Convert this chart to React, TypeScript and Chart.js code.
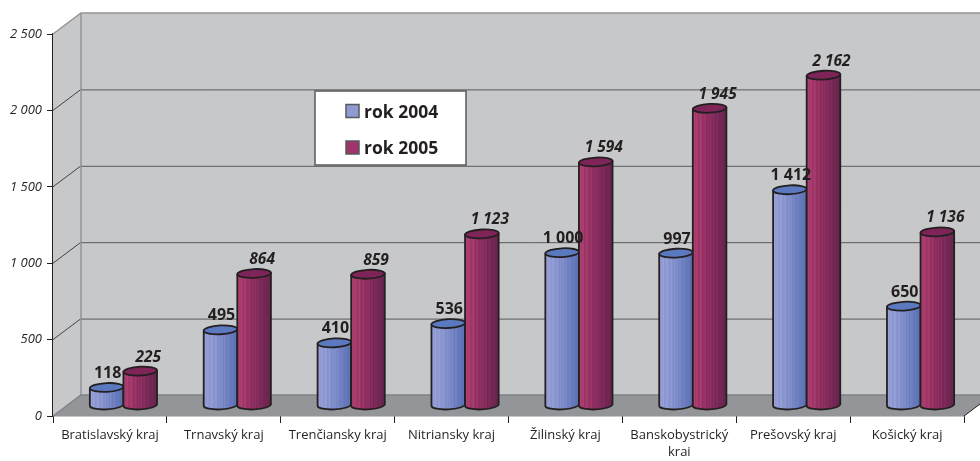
import React, { useEffect, useRef } from "react";
import { Chart, registerables } from "chart.js";

Chart.register(...registerables);

const categories: (string | string[])[] = [
  "Bratislavský kraj",
  "Trnavský kraj",
  "Trenčiansky kraj",
  "Nitriansky kraj",
  "Žilinský kraj",
  ["Banskobystrický", "krai"],
  "Prešovský kraj",
  "Košický kraj",
];
const rok2004 = [118, 495, 410, 536, 1000, 997, 1412, 650];
const rok2005 = [225, 864, 859, 1123, 1594, 1945, 2162, 1136];
const seriesNames = ["rok 2004", "rok 2005"];

const FONT = '"Open Sans", "Noto Sans", sans-serif';
const INK = "#231f20";
const DEPTH_X = 28;
const DEPTH_Y = 21;
const BAR_DX = 13.5;
const BAR_DY = -10.5;
const RY = 4.4;
const TILT = -0.05;

const fmt = (v: number) => {
  const s = String(v);
  return s.length > 3 ? s.slice(0, -3) + " " + s.slice(-3) : s;
};

type Rgb = [number, number, number];
const palettes: { stops: Rgb[]; top: string; swatch: string }[] = [
  { stops: [[148, 156, 212], [136, 148, 206], [112, 128, 192], [88, 112, 178]], top: "#5b79bf", swatch: "#8f9bd2" },
  { stops: [[172, 62, 112], [150, 48, 98], [124, 40, 88], [102, 36, 76]], top: "#7e2458", swatch: "#a0356c" },
];
const stripe = [0, 7, -3, 9, -5, 4, 10, -4, 2, 8, -6, 5];

function shade(stops: Rgb[], t: number, delta: number) {
  const p = t * (stops.length - 1);
  const i = Math.min(Math.floor(p), stops.length - 2);
  const f = p - i;
  const c = stops[i].map((a, k) => Math.round(a + (stops[i + 1][k] - a) * f + delta));
  return `rgb(${c[0]},${c[1]},${c[2]})`;
}

const cylinderPlugin = {
  id: "cylinder",
  beforeDatasetDraw() {
    return false;
  },
  beforeDatasetsDraw(chart: any) {
    const { ctx } = chart;
    chart.data.datasets.forEach((_: any, di: number) => {
      const pal = palettes[di];
      chart.getDatasetMeta(di).data.forEach((el: any) => {
        const w = el.width;
        const cx = el.x + BAR_DX;
        const yTop = el.y + BAR_DY;
        const yBot = el.base + BAR_DY;
        const l = cx - w / 2;
        const r = cx + w / 2;
        const dy = (w / 2) * Math.sin(TILT);
        const g = ctx.createLinearGradient(l, 0, r, 0);
        const n = 24;
        for (let i = 0; i <= n; i++) {
          g.addColorStop(i / n, shade(pal.stops, i / n, stripe[i % stripe.length] * (i / n < 0.75 ? 1 : 0.4)));
        }
        ctx.save();
        ctx.lineWidth = 1.8;
        ctx.strokeStyle = INK;
        ctx.lineJoin = "round";
        ctx.beginPath();
        ctx.moveTo(l, yTop - dy);
        ctx.lineTo(l, yBot - dy);
        ctx.ellipse(cx, yBot, w / 2, RY, TILT, Math.PI, 0, true);
        ctx.lineTo(r, yTop + dy);
        ctx.closePath();
        ctx.fillStyle = g;
        ctx.fill();
        ctx.stroke();
        ctx.beginPath();
        ctx.ellipse(cx, yTop, w / 2, RY, TILT, 0, Math.PI * 2);
        ctx.fillStyle = pal.top;
        ctx.fill();
        ctx.stroke();
        ctx.restore();
      });
    });
  },
  afterDatasetsDraw(chart: any) {
    const { ctx } = chart;
    ctx.save();
    ctx.fillStyle = INK;
    ctx.textAlign = "center";
    ctx.textBaseline = "middle";
    chart.data.datasets.forEach((ds: any, di: number) => {
      const meta = chart.getDatasetMeta(di);
      ctx.font = di === 0 ? `bold 16px ${FONT}` : `italic bold 15.5px ${FONT}`;
      meta.data.forEach((el: any, i: number) => {
        const x = el.x + BAR_DX + (di === 0 ? 1 : 8);
        const y = el.y + BAR_DY - (di === 0 ? 14 : 14);
        ctx.fillText(fmt(ds.data[i]), x, y);
      });
    });
    // legend box
    const lx = 315, ly = 91, lw = 151, lh = 74;
    ctx.fillStyle = "#fff";
    ctx.strokeStyle = "#58595b";
    ctx.lineWidth = 1.5;
    ctx.fillRect(lx, ly, lw, lh);
    ctx.strokeRect(lx, ly, lw, lh);
    ctx.textAlign = "left";
    ctx.font = `bold 17.5px ${FONT}`;
    chart.data.datasets.forEach((ds: any, di: number) => {
      const cy = ly + 20 + di * 36.5;
      ctx.fillStyle = palettes[di].swatch;
      ctx.strokeStyle = "#58595b";
      ctx.fillRect(346, cy - 6.5, 13, 13);
      ctx.strokeRect(346, cy - 6.5, 13, 13);
      ctx.fillStyle = INK;
      ctx.fillText(ds.label, 364, cy + 2);
    });
    ctx.restore();
  },
};

const wallPlugin = {
  id: "walls",
  beforeDatasetsDraw(chart: any) {
    const { ctx, chartArea: a, scales } = chart;
    const W = chart.width;
    const y = scales.y;
    const bl = a.left + DEPTH_X;
    const y0 = y.getPixelForValue(0);
    const yMax = y.getPixelForValue(2500);
    ctx.save();
    ctx.fillStyle = "#c7c8ca";
    ctx.fillRect(bl, yMax - DEPTH_Y, W - bl, y0 - yMax);
    ctx.beginPath();
    ctx.moveTo(a.left, yMax);
    ctx.lineTo(bl, yMax - DEPTH_Y);
    ctx.lineTo(bl, y0 - DEPTH_Y);
    ctx.lineTo(a.left, y0);
    ctx.closePath();
    ctx.fill();
    // floor
    ctx.fillStyle = "#939598";
    ctx.beginPath();
    ctx.moveTo(a.left, y0);
    ctx.lineTo(bl, y0 - DEPTH_Y);
    ctx.lineTo(a.right + DEPTH_X, y0 - DEPTH_Y);
    ctx.lineTo(a.right, y0);
    ctx.closePath();
    ctx.fill();
    // grid lines
    [500, 1000, 1500, 2000].forEach((v) => {
      const p = y.getPixelForValue(v);
      ctx.strokeStyle = "#58595b";
      ctx.lineWidth = 1;
      ctx.beginPath();
      ctx.moveTo(bl, p - DEPTH_Y + 0.5);
      ctx.lineTo(W, p - DEPTH_Y + 0.5);
      ctx.stroke();
      ctx.strokeStyle = INK;
      ctx.lineWidth = 0.8;
      ctx.beginPath();
      ctx.moveTo(a.left, p);
      ctx.lineTo(bl, p - DEPTH_Y);
      ctx.stroke();
    });
    // frame edges
    ctx.strokeStyle = "#939598";
    ctx.lineWidth = 1.5;
    ctx.beginPath();
    ctx.moveTo(a.left, yMax);
    ctx.lineTo(bl, yMax - DEPTH_Y);
    ctx.lineTo(W, yMax - DEPTH_Y);
    ctx.moveTo(bl, yMax - DEPTH_Y);
    ctx.lineTo(bl, y0 - DEPTH_Y);
    ctx.stroke();
    ctx.strokeStyle = "#808285";
    ctx.beginPath();
    ctx.moveTo(a.left, y0);
    ctx.lineTo(bl, y0 - DEPTH_Y);
    ctx.lineTo(W, y0 - DEPTH_Y);
    ctx.stroke();
    ctx.strokeStyle = INK;
    ctx.lineWidth = 1;
    ctx.beginPath();
    ctx.moveTo(a.right, y0);
    ctx.lineTo(a.right + DEPTH_X, y0 - DEPTH_Y);
    ctx.stroke();
    ctx.restore();
  },
};

export default function App() {
  const ref = useRef<HTMLCanvasElement>(null);
  useEffect(() => {
    const barShape = { categoryPercentage: 0.59, barPercentage: 1 };
    const chart = new Chart(ref.current!, {
      type: "bar",
      data: {
        labels: categories as any,
        datasets: [
          { label: seriesNames[0], data: rok2004, backgroundColor: palettes[0].swatch, ...barShape },
          { label: seriesNames[1], data: rok2005, backgroundColor: palettes[1].swatch, ...barShape },
        ],
      },
      plugins: [wallPlugin, cylinderPlugin],
      options: {
        responsive: false,
        animation: false,
        devicePixelRatio: 1,
        layout: { padding: { top: 34, right: 16, left: 0, bottom: 0 } },
        plugins: { legend: { display: false }, tooltip: { enabled: false } },
        scales: {
          x: {
            grid: { drawOnChartArea: false, tickLength: 7, tickColor: INK, offset: true },
            border: { color: INK, width: 1.3 },
            ticks: { color: INK, font: { family: FONT, size: 13, lineHeight: 1.3 }, padding: 4, maxRotation: 0, autoSkip: false },
            afterFit: (s: any) => { s.height = 45; },
          },
          y: {
            min: 0,
            max: 2500,
            grid: { drawOnChartArea: false, tickLength: 6, tickColor: INK },
            border: { color: INK, width: 1.3 },
            ticks: {
              stepSize: 500,
              color: INK,
              padding: 5,
              font: { family: FONT, size: 13, style: "italic" },
              callback: (v: any) => fmt(Number(v)),
            },
            afterFit: (s: any) => { s.width = 53; },
          },
        },
      } as any,
    });
    return () => chart.destroy();
  }, []);
  return (
    <div style={{ position: "fixed", left: 0, top: 0, width: 980, height: 461, background: "#fff" }}>
      <canvas ref={ref} width={980} height={461} style={{ display: "block" }} />
    </div>
  );
}
